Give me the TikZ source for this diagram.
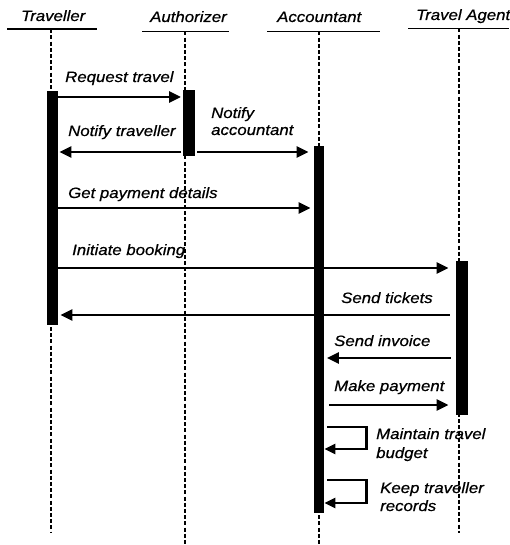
\documentclass[tikz,border=0pt]{standalone}
\usepackage{fontspec}
\setmainfont{Liberation Sans}[FakeStretch=1.12,FakeBold=0.6]
\usetikzlibrary{arrows.meta}

\begin{document}
\begin{tikzpicture}[x=1pt,y=-1pt,
  lbl/.style={font=\fontsize{15}{18}\selectfont\itshape, inner sep=0pt, anchor=base west, align=left},
  headline/.style={line width=1.6pt},
  lifeline/.style={line width=2pt, dash pattern=on 4pt off 2.2pt},
  actbar/.style={fill=black, draw=none, inner sep=0pt, anchor=north west},
  msg/.style={line width=2.8pt, -{Triangle[length=12pt,width=11pt]}},
  selfmsg/.style={line width=2.5pt, -{Triangle[length=11pt,width=10pt]}}]
\useasboundingbox (0,0) rectangle (509,545);

% object headings
\node[lbl] (hT) at (21,21) {Traveller};
\node[lbl] (hA) at (150,22) {Authorizer};
\node[lbl] (hC) at (277,22) {Accountant};
\node[lbl] (hG) at (416,20) {Travel Agent};
\draw[headline] (7,29.3) -- (97,29.3);
\draw[headline] (142,31.5) -- (229,31.5);
\draw[headline] (267,31.5) -- (380,31.5);
\draw[headline] (408,28.5) -- (509,28.5);

% lifelines
\coordinate (tT) at (50.7,29.3);  \coordinate (bT) at (50.7,532);
\coordinate (tA) at (185,31.5);   \coordinate (bA) at (185,545);
\coordinate (tC) at (319,31.5);   \coordinate (bC) at (319,545);
\coordinate (tG) at (459,28.5);   \coordinate (bG) at (459,533);
\draw[lifeline] (tT) -- (bT);
\draw[lifeline] (tA) -- (bA);
\draw[lifeline] (tC) -- (bC);
\draw[lifeline] (tG) -- (bG);

% activation bars
\node[actbar, minimum width=11.5pt, minimum height=234.5pt] (tbar) at (46.5,90.5) {};
\node[actbar, minimum width=12.5pt, minimum height=66pt] (abar) at (182.5,90) {};
\node[actbar, minimum width=10.5pt, minimum height=367pt] (cbar) at (313.5,146) {};
\node[actbar, minimum width=12.5pt, minimum height=154pt] (gbar) at (455.5,260.5) {};

% message rows
\coordinate (r1) at (0,97);
\coordinate (r2) at (0,152);
\coordinate (r3) at (0,208);
\coordinate (r4) at (0,268);
\coordinate (r5) at (0,315);
\coordinate (r6) at (0,358);
\coordinate (r7) at (0,405);
\coordinate (s1) at (0,427);  \coordinate (s1b) at (0,449);
\coordinate (s2) at (0,480);  \coordinate (s2b) at (0,503);

% messages
\draw[msg] (tbar.east |- r1) -- ([xshift=-1.5pt]abar.west |- r1);
\draw[msg] ([xshift=-1.5pt]abar.west |- r2) -- ([xshift=1pt]tbar.east |- r2);
\draw[msg] ([xshift=2pt]abar.east |- r2) -- ([xshift=-5pt]cbar.west |- r2);
\draw[msg] (tbar.east |- r3) -- ([xshift=-3pt]cbar.west |- r3);
\draw[msg] (tbar.east |- r4) -- ([xshift=-7pt]gbar.west |- r4);
\draw[msg] ([xshift=-6pt]gbar.west |- r5) -- ([xshift=2pt]tbar.east |- r5);
\draw[msg] ([xshift=-5pt]gbar.west |- r6) -- ([xshift=2.5pt]cbar.east |- r6);
\draw[msg] ([xshift=4.5pt]cbar.east |- r7) -- ([xshift=-7pt]gbar.west |- r7);
\draw[selfmsg] ([xshift=3pt]cbar.east |- s1) -- ++(39,0) |- (cbar.east |- s1b);
\draw[selfmsg] ([xshift=3pt]cbar.east |- s2) -- ++(39,0) |- (cbar.east |- s2b);

% message labels (multi-line labels sit on their last baseline)
\node[lbl] (m1) at (65,82) {Request travel};
\node[lbl] (m2) at (68,136) {Notify traveller};
\node[lbl] (m3) at (211,135) {Notify\\[-1pt]accountant};
\node[lbl] (m4) at (68,198) {Get payment details};
\node[lbl] (m5) at (72,255) {Initiate booking};
\node[lbl] (m6) at (341,303) {Send tickets};
\node[lbl] (m7) at (334,346) {Send invoice};
\node[lbl] (m8) at (334,391) {Make payment};
\node[lbl] (m9) at (376,458) {Maintain travel\\[1pt]budget};
\node[lbl] (m10) at (380,511) {Keep traveller\\records};
\end{tikzpicture}
\end{document}
